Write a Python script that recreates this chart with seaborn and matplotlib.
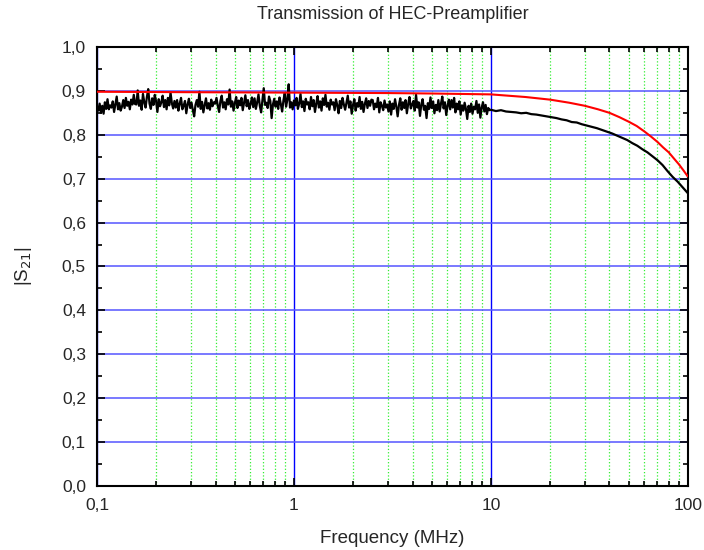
import numpy as np
import pandas as pd
import seaborn as sns
import matplotlib.pyplot as plt
from matplotlib.ticker import FuncFormatter, MultipleLocator, LogLocator

# measured |S21|, 0.1 - 10 MHz (noisy part)
meas_low = [
    0.862, 0.855, 0.871, 0.850, 0.866, 0.848, 0.874, 0.859, 0.881, 0.858, 0.867, 0.862, 0.876, 0.852, 0.869, 0.887, 0.858, 0.872, 0.855, 0.864, 0.879, 0.861, 0.884, 0.866, 0.875, 0.858, 0.880, 0.869, 0.891, 0.870,
    0.869, 0.901, 0.866, 0.878, 0.857, 0.893, 0.874, 0.862, 0.886, 0.904, 0.871, 0.859, 0.883, 0.868, 0.891, 0.876, 0.852, 0.881, 0.865, 0.874, 0.889, 0.863, 0.879, 0.858, 0.884, 0.867, 0.896, 0.872, 0.860, 0.877,
    0.862, 0.879, 0.855, 0.871, 0.884, 0.858, 0.866, 0.877, 0.849, 0.869, 0.882, 0.861, 0.873, 0.856, 0.842, 0.868, 0.879, 0.864, 0.898, 0.859, 0.875, 0.851, 0.867, 0.883, 0.860, 0.872, 0.857, 0.880, 0.865, 0.874,
    0.871, 0.884, 0.866, 0.852, 0.877, 0.889, 0.862, 0.874, 0.858, 0.881, 0.869, 0.903, 0.864, 0.876, 0.855, 0.872, 0.886, 0.861, 0.878, 0.867, 0.884, 0.856, 0.873, 0.890, 0.865, 0.879, 0.859, 0.870, 0.885, 0.863,
    0.883, 0.859, 0.874, 0.892, 0.866, 0.851, 0.879, 0.906, 0.868, 0.873, 0.861, 0.887, 0.877, 0.838, 0.869, 0.882, 0.864, 0.876, 0.859, 0.885, 0.870, 0.853, 0.878, 0.895, 0.864, 0.880, 0.915, 0.862, 0.874, 0.858,
    0.878, 0.867, 0.884, 0.859, 0.871, 0.893, 0.863, 0.876, 0.854, 0.882, 0.869, 0.874, 0.858, 0.886, 0.865, 0.879, 0.852, 0.871, 0.888, 0.862, 0.876, 0.855, 0.883, 0.868, 0.891, 0.864, 0.873, 0.857, 0.880, 0.869,
    0.874, 0.856, 0.881, 0.867, 0.849, 0.877, 0.861, 0.884, 0.869, 0.857, 0.873, 0.889, 0.862, 0.876, 0.848, 0.868, 0.881, 0.855, 0.872, 0.864, 0.886, 0.859, 0.875, 0.852, 0.870, 0.883, 0.861, 0.877, 0.866, 0.880,
    0.879, 0.858, 0.871, 0.863, 0.884, 0.851, 0.874, 0.866, 0.856, 0.878, 0.862, 0.869, 0.853, 0.876, 0.846, 0.871, 0.859, 0.881, 0.864, 0.842, 0.868, 0.883, 0.857, 0.874, 0.861, 0.879, 0.849, 0.870, 0.886, 0.860,
    0.868, 0.877, 0.855, 0.891, 0.862, 0.874, 0.843, 0.869, 0.881, 0.857, 0.866, 0.838, 0.872, 0.859, 0.885, 0.861, 0.876, 0.849, 0.868, 0.856, 0.879, 0.853, 0.871, 0.887, 0.860, 0.874, 0.845, 0.866, 0.880, 0.858,
    0.879, 0.862, 0.884, 0.851, 0.871, 0.858, 0.876, 0.846, 0.867, 0.855, 0.873, 0.859, 0.836, 0.866, 0.852, 0.871, 0.848, 0.864, 0.858, 0.877, 0.850, 0.869, 0.839, 0.862, 0.874, 0.853, 0.868, 0.847, 0.861, 0.856,
]
# measured |S21|, 10 - 100 MHz
meas_high = [
    0.857, 0.854, 0.856, 0.853, 0.852, 0.851, 0.849, 0.850, 0.847, 0.846,
    0.844, 0.842, 0.840, 0.838, 0.835, 0.833, 0.829, 0.828, 0.824, 0.821,
    0.818, 0.815, 0.811, 0.807, 0.803, 0.798, 0.793, 0.788, 0.781, 0.775,
    0.767, 0.760, 0.751, 0.742, 0.731, 0.717, 0.704, 0.693, 0.680, 0.667,
]

# simulated curve
sim_freq = [0.1, 0.3, 1, 3, 5, 10, 15, 20, 25, 30, 35, 40, 45, 50, 55, 60, 65, 70, 75, 80, 85, 90, 95, 100]
sim_s21 = [0.898, 0.897, 0.896, 0.895, 0.894, 0.892, 0.886, 0.880, 0.873, 0.866, 0.858, 0.850,
           0.840, 0.830, 0.820, 0.808, 0.796, 0.784, 0.771, 0.760, 0.746, 0.733, 0.719, 0.705]

freq_low = np.geomspace(0.1, 10, len(meas_low), endpoint=False)
freq_high = np.geomspace(10, 100, len(meas_high))
meas = pd.DataFrame({'freq': np.concatenate([freq_low, freq_high]),
                     's21': meas_low + meas_high})
sim = pd.DataFrame({'freq': sim_freq, 's21': sim_s21})

sns.set_style('ticks')
plt.rcParams['font.family'] = ['Liberation Sans', 'DejaVu Sans']

fig = plt.figure(figsize=(7.04, 5.5), dpi=100)
ax = fig.add_axes([0.1378, 0.1164, 0.8392, 0.7982])

sns.lineplot(data=meas, x='freq', y='s21', color='black', lw=1.6, ax=ax, zorder=3)
sns.lineplot(data=sim, x='freq', y='s21', color='red', lw=1.5, ax=ax, zorder=4)

ax.set_xscale('log')
ax.set_xlim(0.1, 100)
ax.set_ylim(0, 1.0)
ax.yaxis.set_major_locator(MultipleLocator(0.1))
ax.yaxis.set_minor_locator(MultipleLocator(0.05))
ax.xaxis.set_minor_locator(LogLocator(subs=np.arange(2, 10)))
ax.xaxis.set_major_formatter(FuncFormatter(lambda v, p: f'{v:g}'.replace('.', ',')))
ax.xaxis.set_minor_formatter(FuncFormatter(lambda v, p: ''))
ax.yaxis.set_major_formatter(FuncFormatter(lambda v, p: f'{v:.1f}'.replace('.', ',')))

ax.grid(which='major', axis='y', color='#5555ff', lw=1.1)
ax.grid(which='major', axis='x', color='blue', lw=1)
ax.grid(which='minor', axis='x', color='#33ee33', ls=':', lw=0.9)
ax.set_axisbelow(True)

ax.tick_params(which='both', direction='in', top=True, right=True, labelsize=12.5, color='black')
ax.tick_params(which='major', length=6, width=1.2)
ax.tick_params(which='minor', length=3.5, width=1.2)
ax.tick_params(axis='x', which='major', pad=9)
ax.tick_params(axis='y', which='major', pad=8)
for s in ax.spines.values():
    s.set_linewidth(1.5)
    s.set_color('black')

ax.set_title('Transmission of HEC-Preamplifier', fontsize=13, pad=20)
ax.set_xlabel('Frequency (MHz)', fontsize=13.5, labelpad=12)
ax.set_ylabel('|S$_{21}$|', fontsize=13.5, labelpad=20)

fig.savefig('out.png', dpi=100)
